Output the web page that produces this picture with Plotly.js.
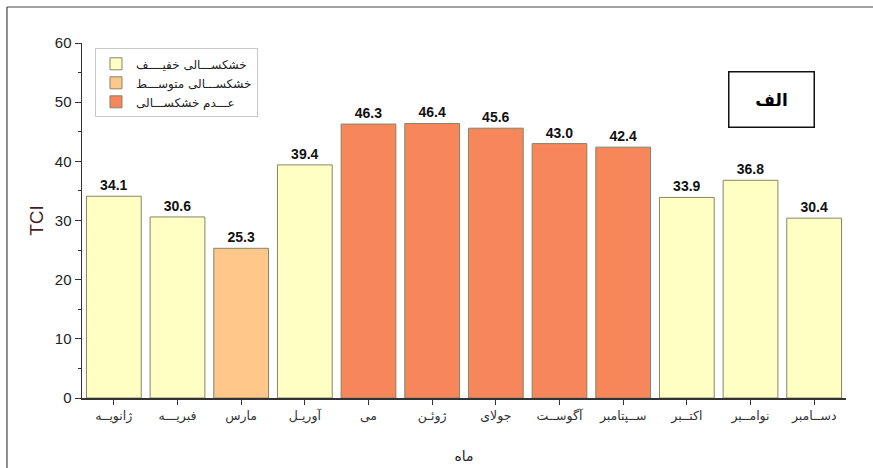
<!DOCTYPE html>
<html>
<head>
<meta charset="utf-8">
<script src="https://cdn.plot.ly/plotly-3.0.1.min.js"></script>
<style>
  html, body { margin: 0; padding: 0; background: #fff; }
  #chart { width: 873px; height: 468px; }
</style>
</head>
<body>
<div id="chart"></div>
<script>
// ---- data ----
const months = ["ژانویــه", "فبریـــه", "مارس", "آوریـل", "می", "ژوئـن", "جولای", "آگوســت", "ســپتامبر", "اکتــبر", "نوامــبر", "دســامبر"];
const tci = [34.1, 30.6, 25.3, 39.4, 46.3, 46.4, 45.6, 43.0, 42.4, 33.9, 36.8, 30.4];
// class index per month: 0 = mild drought, 1 = moderate drought, 2 = no drought
const droughtClass = [0, 0, 1, 0, 2, 2, 2, 2, 2, 0, 0, 0];
const classNames = ["خشکســـالی خفیــــف", "خشکســـالی متوســـط", "عـــدم خشکســـالی"];
const classColors = ["#FFFFC4", "#FFC78A", "#F7875A"];
const yTicks = [0, 10, 20, 30, 40, 50, 60];

// ---- traces ----
const traces = classNames.map((name, c) => ({
  type: "bar",
  name: name,
  x: months,
  y: tci.map((v, i) => droughtClass[i] === c ? v : null),
  marker: { color: classColors[c], line: { color: "#85856a", width: 1 } },
  texttemplate: "%{y:.1f}",
  textposition: "outside",
  textfont: { family: "Arial, Liberation Sans", size: 14, color: "#111", weight: "bold" },
  cliponaxis: false,
  hoverinfo: "x+y"
}));

const layout = {
  width: 873, height: 468,
  margin: { l: 82, r: 27, t: 43, b: 70 },
  paper_bgcolor: "#fff", plot_bgcolor: "#fff",
  barmode: "overlay",
  bargap: 0.14,
  showlegend: true,
  legend: {
    x: 0.017, y: 0.985, xanchor: "left", yanchor: "top",
    bgcolor: "#fff", bordercolor: "#c8c8c8", borderwidth: 1,
    font: { family: "DejaVu Sans", size: 12, color: "#222" },
    tracegroupgap: 0, itemwidth: 30
  },
  xaxis: {
    type: "category",
    showline: true, linecolor: "#333", linewidth: 1.5,
    ticks: "outside", ticklen: 5, tickcolor: "#333", tickwidth: 1,
    tickfont: { family: "DejaVu Sans", size: 12.5, color: "#333" },
    showgrid: false, zeroline: false,
    title: { text: "ماه", font: { family: "DejaVu Sans", size: 14, color: "#222" }, standoff: 28 }
  },
  yaxis: {
    range: [0, 60],
    tickvals: yTicks,
    showline: true, linecolor: "#333", linewidth: 1.5,
    ticks: "outside", ticklen: 6, tickcolor: "#333", tickwidth: 1,
    minor: { dtick: 5, ticks: "outside", ticklen: 3, tickcolor: "#333" },
    tickfont: { family: "Arial, Liberation Sans", size: 15, color: "#222" },
    showgrid: false, zeroline: false,
    title: { text: "TCI", font: { family: "Arial, Liberation Sans", size: 19, color: "#4a1c1c" }, standoff: 6 }
  },
  xaxis2: {
    overlaying: "x", side: "top", anchor: "y",
    range: [-0.283, 16.36], tick0: 0, dtick: 2,
    showline: true, linecolor: "#333", linewidth: 1.5,
    ticks: "inside", ticklen: 5, tickcolor: "#333",
    minor: { dtick: 1, ticks: "inside", ticklen: 3, tickcolor: "#333" },
    showticklabels: false, showgrid: false, zeroline: false
  },
  yaxis2: {
    overlaying: "y", side: "right", anchor: "x",
    range: [0, 10], dtick: 1,
    showline: true, linecolor: "#333", linewidth: 1.5,
    ticks: "inside", ticklen: 4, tickcolor: "#333",
    showticklabels: false, showgrid: false, zeroline: false
  },
  annotations: [{
    xref: "paper", yref: "paper",
    x: 0.9025, y: 0.842, xanchor: "center", yanchor: "middle",
    text: "<b>الف</b>", showarrow: false,
    font: { family: "DejaVu Sans", size: 17, color: "#000" },
    bordercolor: "#111", borderwidth: 1.5, bgcolor: "#fff",
    width: 82, height: 52
  }],
  shapes: [
    { type: "line", xref: "paper", yref: "paper", x0: -0.0982, x1: 1.05, y0: 1.1014, y1: 1.1014, line: { color: "#444", width: 1.2 } },
    { type: "line", xref: "paper", yref: "paper", x0: -0.0982, x1: -0.0982, y0: 1.1014, y1: -0.21, line: { color: "#444", width: 1.2 } }
  ]
};

Plotly.newPlot("chart", traces, layout, { displayModeBar: false, staticPlot: true });
</script>
</body>
</html>
